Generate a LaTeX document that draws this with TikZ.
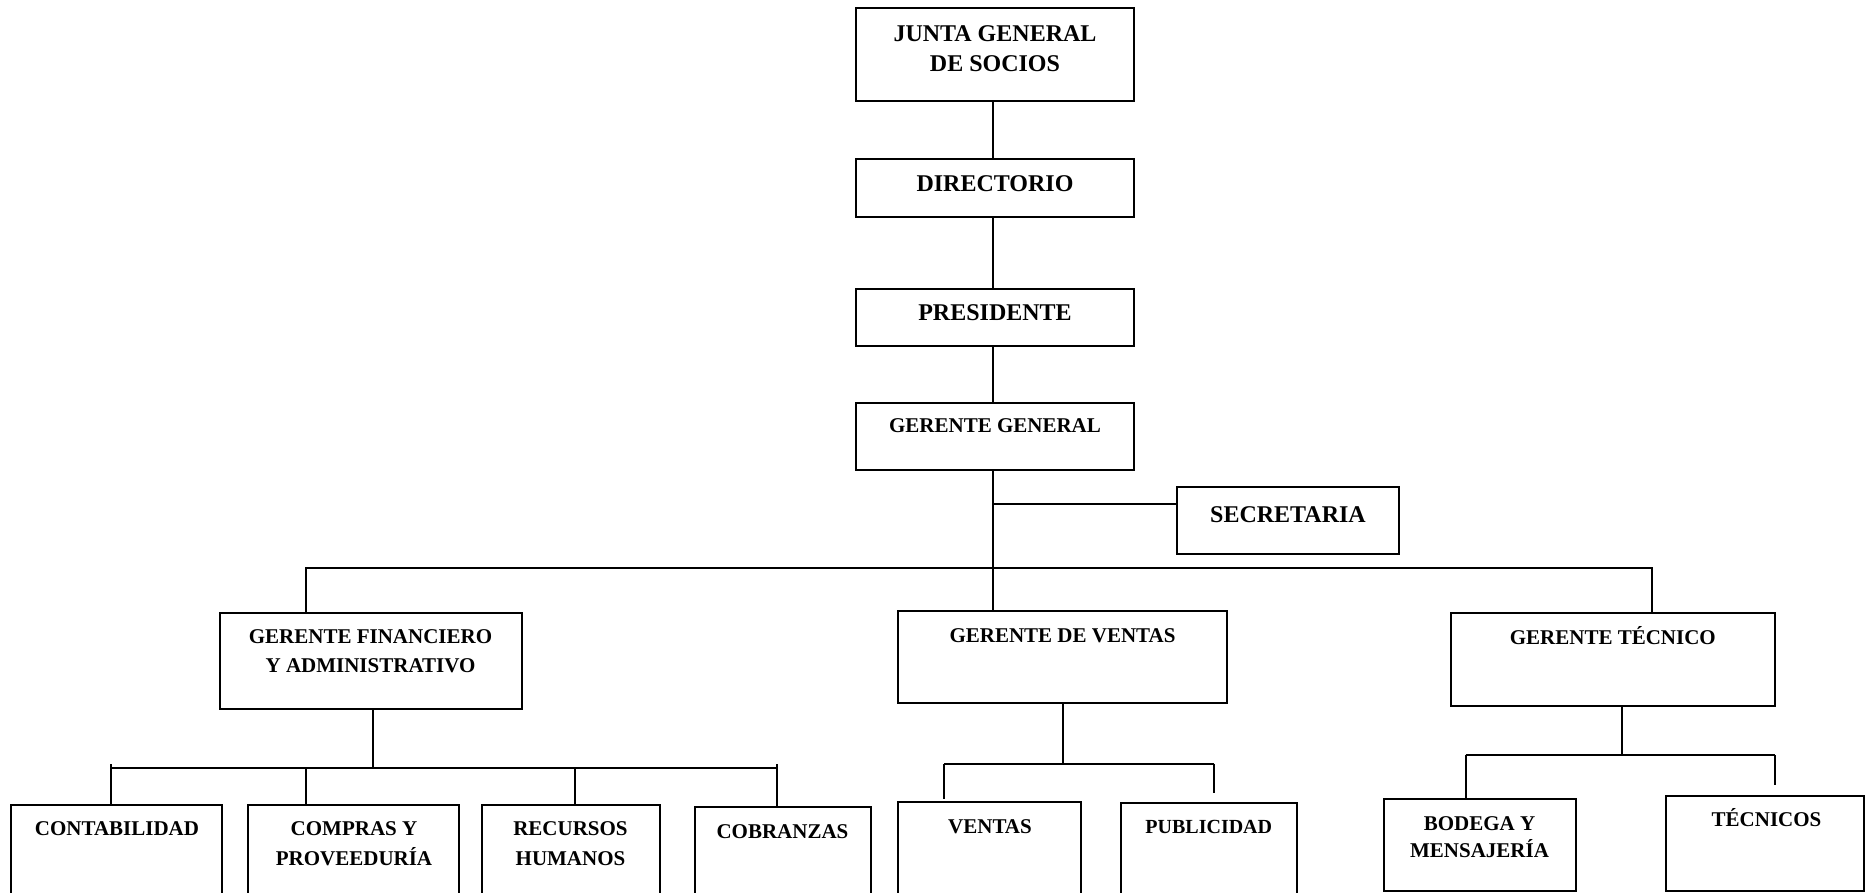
\documentclass[tikz,border=0pt]{standalone}
\usepackage{fontspec}
\setmainfont{Liberation Serif}
\def\pxu{0.5pt}
\begin{document}
\begin{tikzpicture}[x=0.5pt,y=-0.5pt,
  box/.style={draw, line width=1pt, inner sep=0pt, rectangle},
  big/.style={font=\fontsize{12}{15.35}\selectfont\bfseries, inner sep=0pt, align=center},
  small/.style={font=\fontsize{10.5}{14.5}\selectfont\bfseries, inner sep=0pt, align=center},
  conn/.style={line width=1pt}]
\useasboundingbox (0,0) rectangle (1865,893);
\clip (0,0) rectangle (1865,893);

% ---- boxes ----
\node[box, minimum width=278*\pxu, minimum height=93*\pxu] (junta) at (995,54.5) {};
\node[box, minimum width=278*\pxu, minimum height=58*\pxu] (dir) at (995,188) {};
\node[box, minimum width=278*\pxu, minimum height=57*\pxu] (pres) at (995,317.5) {};
\node[box, minimum width=278*\pxu, minimum height=67*\pxu] (gg) at (995,436.5) {};
\node[box, minimum width=222*\pxu, minimum height=67*\pxu] (sec) at (1288,520.5) {};
\node[box, minimum width=302*\pxu, minimum height=96*\pxu] (gfa) at (371,661) {};
\node[box, minimum width=329*\pxu, minimum height=92*\pxu] (gdv) at (1062.5,657) {};
\node[box, minimum width=324*\pxu, minimum height=93*\pxu] (gt) at (1613,659.5) {};
\node[box, minimum width=211*\pxu, minimum height=145*\pxu] (cont) at (116.5,877.5) {};
\node[box, minimum width=211*\pxu, minimum height=145*\pxu] (comp) at (353.5,877.5) {};
\node[box, minimum width=178*\pxu, minimum height=145*\pxu] (rrhh) at (571,877.5) {};
\node[box, minimum width=176*\pxu, minimum height=143*\pxu] (cobr) at (783,878.5) {};
\node[box, minimum width=183*\pxu, minimum height=148*\pxu] (ventas) at (989.5,876) {};
\node[box, minimum width=176*\pxu, minimum height=147*\pxu] (publ) at (1209,876.5) {};
\node[box, minimum width=192*\pxu, minimum height=92*\pxu] (bodega) at (1480,845) {};
\node[box, minimum width=198*\pxu, minimum height=95*\pxu] (tec) at (1765,843.5) {};

% ---- texts ----
\node[big, anchor=center] (junta-t) at (995,48.7) {JUNTA GENERAL\\DE SOCIOS};
\node[big, anchor=base] (dir-t) at (995,191.3) {DIRECTORIO};
\node[big, anchor=base] (pres-t) at (995,320.7) {PRESIDENTE};
\node[small, anchor=base] (gg-t) at (995,433) {GERENTE GENERAL};
\node[big, anchor=base] (sec-t) at (1288,523) {SECRETARIA};
\node[small, anchor=center] (gfa-t) at (370.5,651.5) {GERENTE FINANCIERO\\Y ADMINISTRATIVO};
\node[small, anchor=base] (gdv-t) at (1062.5,642) {GERENTE DE VENTAS};
\node[small, anchor=base] (gt-t) at (1612.8,644.3) {GERENTE TÉCNICO};
\node[small, anchor=base] (cont-t) at (117,835.5) {CONTABILIDAD};
\node[small, font=\fontsize{10.5}{14.65}\selectfont\bfseries, anchor=center] (comp-t) at (354,843.7) {COMPRAS Y\\PROVEEDURÍA};
\node[small, font=\fontsize{10.5}{14.65}\selectfont\bfseries, anchor=center] (rrhh-t) at (570.5,843.5) {RECURSOS\\HUMANOS};
\node[small, anchor=base] (cobr-t) at (782.5,838.7) {COBRANZAS};
\node[small, anchor=base] (ventas-t) at (990,833.7) {VENTAS};
\node[small, font=\fontsize{10}{13}\selectfont\bfseries, anchor=base] (publ-t) at (1208.8,833.7) {PUBLICIDAD};
\node[small, font=\fontsize{10.5}{13.85}\selectfont\bfseries, anchor=center] (bodega-t) at (1479.5,837.2) {BODEGA Y\\MENSAJERÍA};
\node[small, anchor=base] (tec-t) at (1766.5,826.7) {TÉCNICOS};

% ---- connectors ----
\coordinate (tk) at (992.5,0);
\draw[conn] (junta.south -| tk) -- (dir.north -| tk);
\draw[conn] (dir.south -| tk) -- (pres.north -| tk);
\draw[conn] (pres.south -| tk) -- (gg.north -| tk);
\draw[conn] (gg.south -| tk) -- (gdv.north -| tk);
\coordinate (sj) at (993.5,504);
\draw[conn] (sj) -- (sec.west |- sj);

\coordinate (bL) at (306,568);
\coordinate (bR) at (1652.3,568);
\draw[conn] (gfa.north -| bL) -- (bL) -- (bR) -- (gt.north -| bR);

% financial subtree
\coordinate (fb) at (373,768);
\coordinate (fL) at (111,764);
\coordinate (fR) at (777,764);
\coordinate (fC1) at (305.5,768);
\coordinate (fC2) at (574.6,768);
\draw[conn] (gfa.south -| fb) -- (fb);
\draw[conn] (fL |- fb) -- (fR |- fb);
\draw[conn] (fL) -- (cont.north -| fL);
\draw[conn] (fR) -- (cobr.north -| fR);
\draw[conn] (fC1) -- (comp.north -| fC1);
\draw[conn] (fC2) -- (rrhh.north -| fC2);

% sales subtree
\coordinate (vb) at (1063.3,763.5);
\coordinate (vL) at (944,763.5);
\coordinate (vR) at (1213.5,763.5);
\coordinate (vRend) at (1213.5,793);
\draw[conn] (gdv.south -| vb) -- (vb);
\draw[conn] (vL) -- (vR);
\draw[conn] (vL) -- ([yshift=1pt]ventas.north -| vL);
\draw[conn] (vR) -- (vRend);

% technical subtree
\coordinate (tb) at (1621.7,755);
\coordinate (tL) at (1465.7,755);
\coordinate (tR) at (1775,755);
\coordinate (tRend) at (1775,785);
\draw[conn] (gt.south -| tb) -- (tb);
\draw[conn] (tL) -- (tR);
\draw[conn] (tL) -- (bodega.north -| tL);
\draw[conn] (tR) -- (tRend);
\end{tikzpicture}
\end{document}
